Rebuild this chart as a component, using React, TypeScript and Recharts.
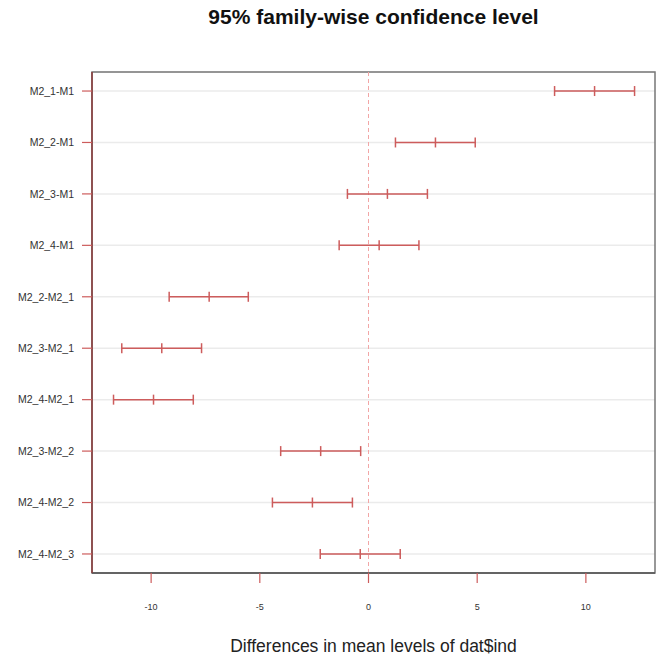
import { ScatterChart, Scatter, XAxis, YAxis, CartesianGrid, ReferenceLine, ReferenceArea, ErrorBar, Label } from 'recharts'

// Tukey HSD comparisons, top to bottom
const comparisons = ['M2_1-M1', 'M2_2-M1', 'M2_3-M1', 'M2_4-M1', 'M2_2-M2_1', 'M2_3-M2_1', 'M2_4-M2_1', 'M2_3-M2_2', 'M2_4-M2_2', 'M2_4-M2_3']
const diffs = [10.40, 3.08, 0.87, 0.49, -7.33, -9.51, -9.89, -2.20, -2.58, -0.38]
const lowers = [8.56, 1.24, -0.97, -1.35, -9.17, -11.35, -11.73, -4.04, -4.42, -2.22]
const uppers = [12.24, 4.91, 2.71, 2.32, -5.53, -7.68, -8.06, -0.36, -0.74, 1.46]
const xTicks = [-10, -5, 0, 5, 10]
const xDomain = [-12.72, 13.18]
const yDomain = [-0.37, 9.37]

const RED = '#cd5c5c'
const FONT = '"Liberation Sans", Arial, sans-serif'

const data = comparisons.map((name, i) => ({
  name,
  idx: i,
  diff: diffs[i],
  err: [diffs[i] - lowers[i], uppers[i] - diffs[i]],
}))

const MeanTick = (props: any) => {
  const { cx, cy } = props
  return <line x1={cx} x2={cx} y1={cy - 5} y2={cy + 5} stroke={RED} strokeWidth={1.5} />
}

export default function App() {
  return (
    <div style={{ position: 'absolute', left: 0, top: 0, width: 666, height: 656, background: '#fff', fontFamily: FONT }}>
      <div style={{ position: 'absolute', top: 5, left: 92, width: 563, textAlign: 'center', fontSize: 21, fontWeight: 'bold', color: '#111' }}>
        95% family-wise confidence level
      </div>
      <ScatterChart width={666} height={656} margin={{ top: 72, right: 11, bottom: 0, left: 0 }}>
        <CartesianGrid vertical={false} stroke="#ebebeb" strokeWidth={1.5} />
        <XAxis
          type="number"
          dataKey="diff"
          domain={xDomain}
          ticks={xTicks}
          allowDataOverflow
          height={83}
          tickSize={10}
          tickMargin={21}
          axisLine={{ stroke: '#555', strokeWidth: 1.5 }}
          tickLine={{ stroke: RED, strokeWidth: 1.2 }}
          tick={{ fontSize: 9, fill: '#333', fontFamily: FONT }}
        >
          <Label value="Differences in mean levels of dat$ind" position="insideBottom" offset={4} style={{ fontSize: 17.5, fill: '#222', fontFamily: FONT }} />
        </XAxis>
        <YAxis
          type="number"
          dataKey="idx"
          domain={yDomain}
          reversed
          allowDataOverflow
          ticks={comparisons.map((_, i) => i)}
          tickFormatter={(v: number) => comparisons[v]}
          width={92}
          tickSize={10}
          tickMargin={8}
          interval={0}
          axisLine={{ stroke: '#8b3a3a', strokeWidth: 1.5 }}
          tickLine={{ stroke: RED, strokeWidth: 1.2 }}
          tick={{ fontSize: 10.5, fill: '#333', fontFamily: FONT }}
        />
        <ReferenceArea x1={xDomain[0]} x2={xDomain[1]} y1={yDomain[0]} y2={yDomain[1]} fill="none" fillOpacity={0} stroke="#777" strokeWidth={1.5} />
        <ReferenceLine x={0} stroke="#f2a6a6" strokeDasharray="4 3" strokeWidth={1} />
        <Scatter data={data} dataKey="diff" shape={<MeanTick />} isAnimationActive={false}>
          <ErrorBar dataKey="err" direction="x" width={5} stroke={RED} strokeWidth={1.5} />
        </Scatter>
      </ScatterChart>
    </div>
  )
}
